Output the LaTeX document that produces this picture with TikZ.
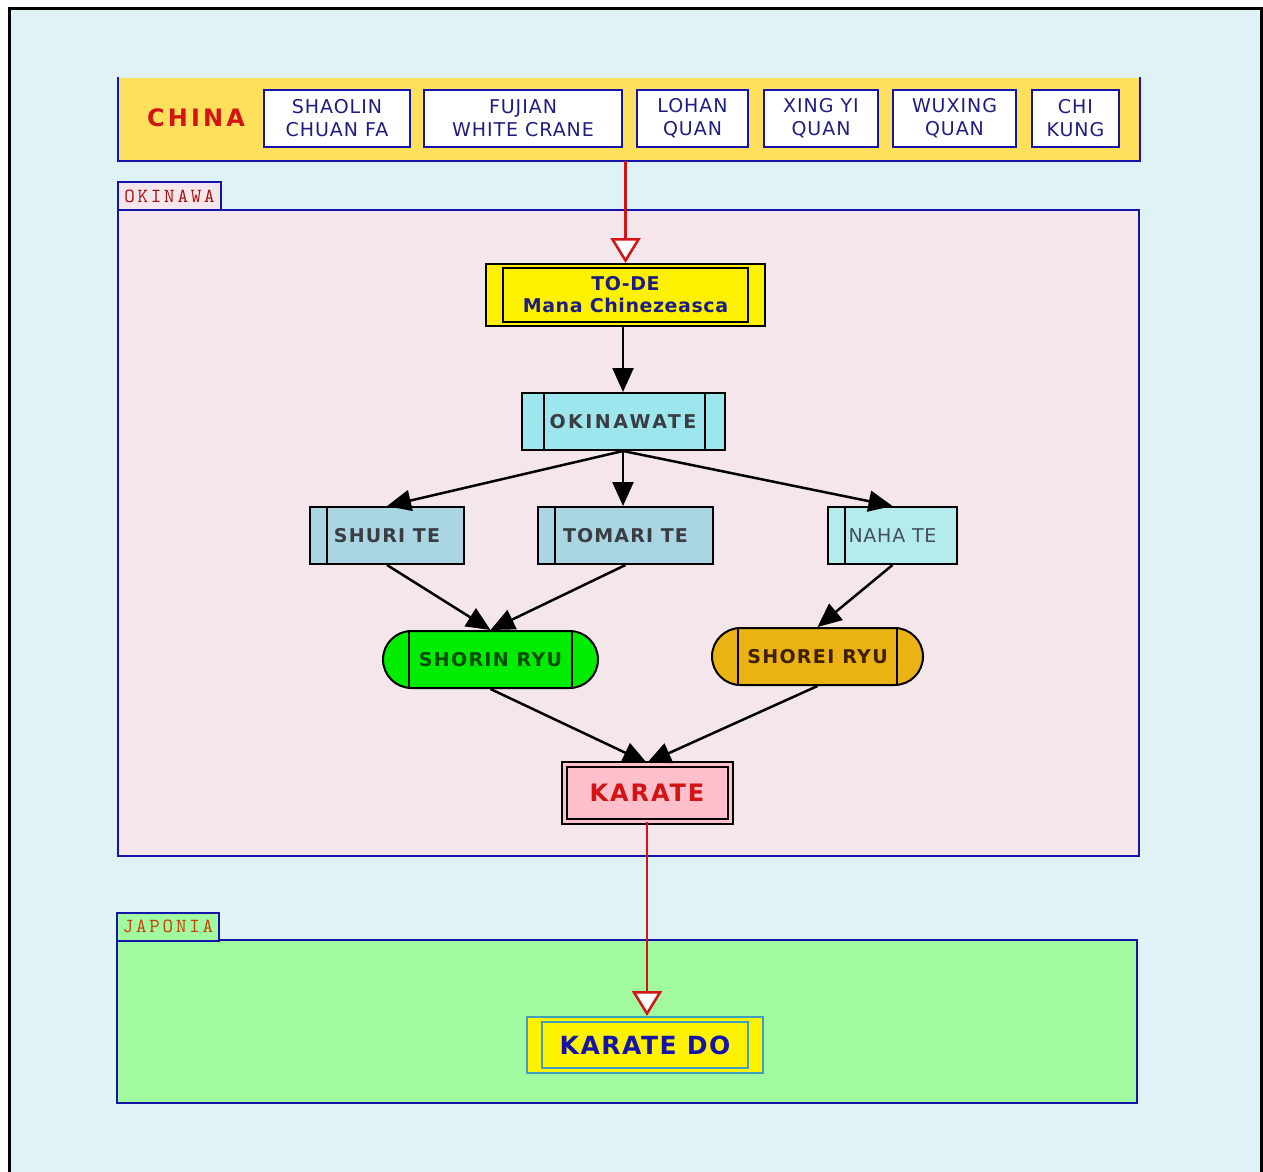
\documentclass[tikz,border=0pt]{standalone}
\usepackage{fontspec}
\setmainfont{DejaVu Sans}
\newfontfamily\tabfont[LetterSpace=14]{lmmono10-regular.otf}
\usetikzlibrary{arrows.meta,shapes.misc}
\definecolor{k_bg}{RGB}{223,243,246}
\definecolor{k_navy}{RGB}{20,20,170}
\definecolor{k_ink}{RGB}{30,30,130}
\definecolor{k_gold}{RGB}{255,224,92}
\definecolor{k_rose}{RGB}{244,230,234}
\definecolor{k_lime}{RGB}{162,250,160}
\definecolor{k_cyan}{RGB}{158,230,238}
\definecolor{k_blue}{RGB}{170,214,228}
\definecolor{k_pale}{RGB}{180,236,238}
\definecolor{k_green}{RGB}{0,236,0}
\definecolor{k_amber}{RGB}{234,178,18}
\definecolor{k_pink}{RGB}{255,192,204}
\definecolor{k_red}{RGB}{210,20,20}
\definecolor{k_teal}{RGB}{60,160,190}
\tikzstyle{none}=[inner sep=0pt]
\tikzstyle{cb}=[rectangle,draw=k_navy,fill=white,line width=2pt,minimum height=57pt,
  inner sep=0pt,align=center,text=k_ink,font=\fontsize{19}{23}\selectfont\addfontfeatures{LetterSpace=5}]
\tikzstyle{bx}=[rectangle,draw=black,line width=2pt,minimum height=57pt,inner sep=0pt,
  align=center,font=\bfseries\fontsize{19}{22}\selectfont\addfontfeatures{LetterSpace=6}]
\tikzstyle{db}=[path picture={\draw[line width=2pt] ([shift={(17pt,-4pt)}]path picture bounding box.north west)
  rectangle ([shift={(-17pt,4pt)}]path picture bounding box.south east);}]
\tikzstyle{lb}=[path picture={\draw[line width=2pt] ([xshift=17pt]path picture bounding box.north west)
  -- ([xshift=17pt]path picture bounding box.south west);}]
\tikzstyle{sb}=[path picture={\draw[line width=2pt] ([xshift=22pt]path picture bounding box.north west)
  -- ([xshift=22pt]path picture bounding box.south west);
  \draw[line width=2pt] ([xshift=-20pt]path picture bounding box.north east)
  -- ([xshift=-20pt]path picture bounding box.south east);}]
\tikzstyle{rr}=[rounded rectangle,draw=black,line width=2pt,minimum height=57pt,inner sep=0pt,
  font=\bfseries\fontsize{19}{22}\selectfont\addfontfeatures{LetterSpace=7},
  path picture={\draw[line width=2pt] ([xshift=26pt]path picture bounding box.north west)
  -- ([xshift=26pt]path picture bounding box.south west);
  \draw[line width=2pt] ([xshift=-26pt]path picture bounding box.north east)
  -- ([xshift=-26pt]path picture bounding box.south east);}]
\tikzstyle{cl}=[rectangle,draw=k_navy,line width=2pt,inner sep=0pt]
\tikzstyle{tab}=[rectangle,draw=k_navy,line width=2pt,inner sep=0pt,minimum height=28pt,
  font=\tabfont\fontsize{20}{20}\selectfont]
\tikzstyle{ar}=[line width=2.5pt,-{Triangle[length=24pt,width=21pt]}]
\tikzstyle{ra}=[draw=k_red,line width=2.5pt,-{Triangle[length=25pt,width=30pt,fill=white]}]

\begin{document}
\begin{tikzpicture}[x=1pt,y=-1pt]
            \useasboundingbox (0,0) rectangle (1263,1172);
            \fill [k_bg] (9,9) rectangle (1261,1172);
            \draw [line width=3pt] (9,1172) -- (9,9) -- (1261,9) -- (1261,1172);
            % clusters
            \node [style=cl,draw=none,fill=k_gold,minimum width=1020pt,minimum height=82pt] (16) at (629,119) {};
            \draw [k_navy,line width=2pt] (16.north west) -- (16.south west) -- (16.south east) -- (16.north east);
            \node [style=cl,fill=k_rose,minimum width=1021pt,minimum height=646pt] (17) at (628.5,533) {};
            \node [style=tab,fill=k_rose,minimum width=103pt,text=k_red!80!black] (18) at (169.5,196) {OKINAWA};
            \node [style=cl,fill=k_lime,minimum width=1020pt,minimum height=163pt] (19) at (627,1021.5) {};
            \node [style=tab,fill=k_lime,minimum width=102pt,text=orange!60!red!80!black] (20) at (168,926.5) {JAPONIA};
            % china
            \node [style=none,text=k_red,font=\bfseries\fontsize{24}{26}\selectfont\addfontfeatures{LetterSpace=13}] (0) at (196,118) {CHINA};
            \node [style=cb,minimum width=146pt] (1) at (337,118.5) {SHAOLIN\\CHUAN FA};
            \node [style=cb,minimum width=198pt] (2) at (523,118.5) {FUJIAN\\WHITE CRANE};
            \node [style=cb,minimum width=111pt] (3) at (692.5,118.5) {LOHAN\\QUAN};
            \node [style=cb,minimum width=114pt] (4) at (821,118.5) {XING YI\\QUAN};
            \node [style=cb,minimum width=123pt] (5) at (954.5,118.5) {WUXING\\QUAN};
            \node [style=cb,minimum width=87pt] (6) at (1075.5,118.5) {CHI\\KUNG};
            % okinawa
            \node [style=bx,style=db,fill=yellow,text=k_ink,minimum width=279pt,minimum height=62pt,
              font=\bfseries\fontsize{19}{22}\selectfont\addfontfeatures{LetterSpace=3}] (7) at (625.5,295) {TO-DE\\Mana Chinezeasca};
            \node [style=bx,style=sb,fill=k_cyan,text=black!85!cyan,minimum width=203pt,
              font=\bfseries\fontsize{19}{22}\selectfont\addfontfeatures{LetterSpace=13}] (8) at (623,421.5) {OKINAWATE};
            \node [style=bx,style=lb,fill=k_blue,text=black!85!cyan,minimum width=154pt] (9) at (387,535.5) {SHURI TE};
            \node [style=bx,style=lb,fill=k_blue,text=black!85!cyan,minimum width=175pt] (10) at (625.5,535.5) {TOMARI TE};
            \node [style=bx,style=lb,fill=k_pale,text=black!75!cyan,minimum width=129pt,
              font=\fontsize{19}{22}\selectfont\addfontfeatures{LetterSpace=4}] (11) at (892.5,535.5) {NAHA TE};
            \node [style=rr,fill=k_green,text=green!30!black,minimum width=215pt] (12) at (490.5,659.5) {SHORIN RYU};
            \node [style=rr,fill=k_amber,text=orange!25!black,minimum width=211pt] (13) at (817.5,656.5) {SHOREI RYU};
            \node [style=bx,fill=k_pink,text=k_red,minimum width=166pt,double=k_pink,double distance=3pt,
              font=\bfseries\fontsize{24}{26}\selectfont\addfontfeatures{LetterSpace=8}] (14) at (647,792.5) {KARATE};
            % japonia
            \node [style=bx,draw=k_teal,fill=yellow,text=k_navy,minimum width=236pt,minimum height=56pt,
              path picture={\draw[k_teal,line width=2pt] ([shift={(15pt,-5pt)}]path picture bounding box.north west)
              rectangle ([shift={(-15pt,5pt)}]path picture bounding box.south east);},
              font=\bfseries\fontsize{25}{26}\selectfont\addfontfeatures{LetterSpace=6}] (15) at (645,1045) {KARATE DO};
            % edges
            \draw [style=ra] (16.south -| 7.north) to (7.north);
            \draw [style=ar] (7.south -| 8.north) to (8.north);
            \draw [style=ar] (8.south) to (9.north);
            \draw [style=ar] (8.south) to (10.north -| 8.south);
            \draw [style=ar] (8.south) to (11.north);
            \draw [style=ar] (9.south) to (12.north);
            \draw [style=ar] (10.south) to (12.north);
            \draw [style=ar] (11.south) to (13.north);
            \draw [style=ar] (12.south) to (14.north);
            \draw [style=ar] (13.south) to (14.north);
            \draw [style=ra] (14.south) to (14.south |- 15.north);
    \end{tikzpicture}
\end{document}
